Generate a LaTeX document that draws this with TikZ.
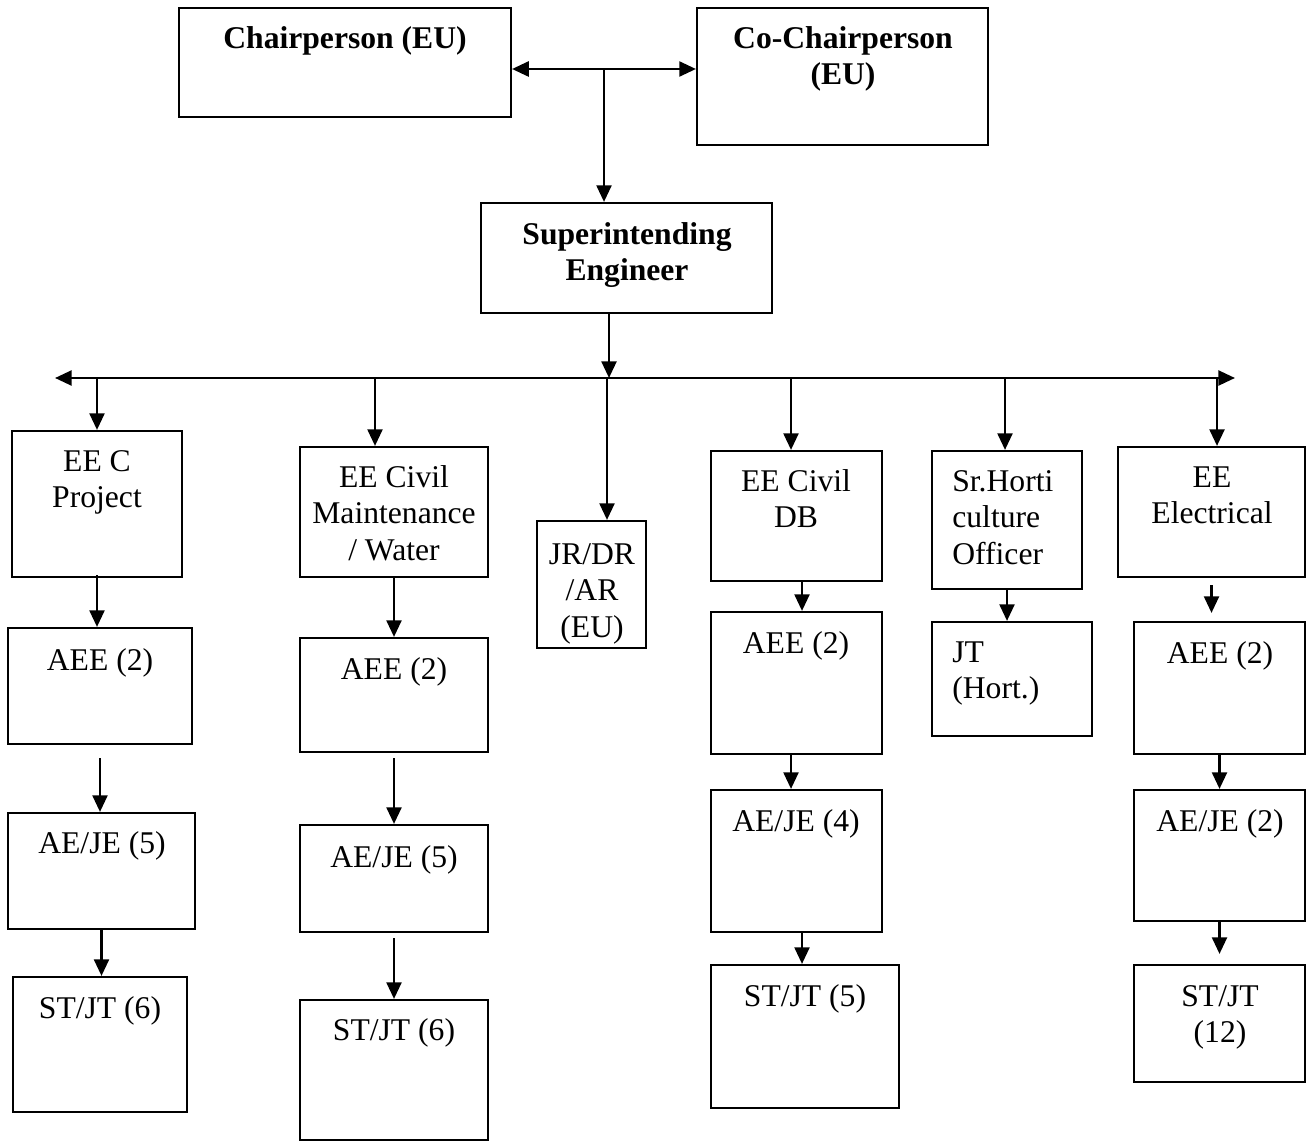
\documentclass[tikz,border=0pt]{standalone}
\usepackage{fontspec}
\setmainfont{Liberation Serif}
\usetikzlibrary{arrows.meta,fit}
\newdimen\ux \ux=0.02cm
\tikzset{
 box/.style={draw, line width=1.2pt, inner sep=0pt},
 txt/.style={font=\fontsize{18}{20.8}\selectfont, align=center, inner sep=0pt},
 btxt/.style={txt, font=\fontsize{18}{20.8}\selectfont\bfseries},
 ltxt/.style={txt, align=left},
 arr/.style={line width=1.5pt, -{Triangle[length=9.5pt,width=8.5pt]}},
 darr/.style={line width=1.5pt, {Triangle[length=9.5pt,width=8.5pt]}-{Triangle[length=9.5pt,width=8.5pt]}},
}
\newcommand\ob[5]{\node[box, fit={(#2,#3) (#4,#5)}] (#1) {};}
\newcommand\tx[5][txt]{\node[#1, anchor=north] (#2) at (#3,{#4-25.6}) {\strut #5};}
\newcommand\tl[4]{\node[ltxt, anchor=north west] (#1) at (#2,{#3-25.6}) {\strut #4};}
\begin{document}
\begin{tikzpicture}[x=0.02cm,y=-0.02cm]
\useasboundingbox (0,0) rectangle (1307,1142);
% boxes
\ob{chair}{179}{8}{511}{117}
\ob{cochair}{697}{8}{988}{145}
\ob{se}{481}{203}{772}{313}
\ob{eeA}{12}{431}{182}{577}
\ob{eeB}{300}{447}{488}{577}
\ob{jr}{537}{521}{646}{648}
\ob{db}{711}{451}{882}{581}
\ob{hort}{932}{451}{1082}{589}
\ob{el}{1118}{447}{1305}{577}
\ob{aeeA}{8}{628}{192}{744}
\ob{aejeA}{8}{813}{195}{929}
\ob{stA}{13}{977}{187}{1112}
\ob{aeeB}{300}{638}{488}{752}
\ob{aejeB}{300}{825}{488}{932}
\ob{stB}{300}{1000}{488}{1140}
\ob{aeeD}{711}{612}{882}{754}
\ob{aejeD}{711}{790}{882}{932}
\ob{stD}{711}{965}{899}{1108}
\ob{jt}{932}{622}{1092}{736}
\ob{aeeE}{1134}{622}{1305}{754}
\ob{aejeE}{1134}{790}{1305}{921}
\ob{stE}{1134}{965}{1305}{1082}
% texts
\tx[btxt]{t-chair}{345}{48}{Chairperson (EU)}
\tx[btxt]{t-cochair}{843}{48}{Co-Chairperson\\(EU)}
\tx[btxt]{t-se}{627}{244}{Superintending\\Engineer}
\tx{t-eeA}{97}{471}{EE C\\Project}
\tx{t-eeB}{394}{487}{EE Civil\\Maintenance\\/ Water}
\tx{t-jr}{592}{564}{JR/DR\\/AR\\(EU)}
\tx{t-db}{796}{491}{EE Civil\\DB}
\tl{t-hort}{952}{491}{Sr.Horti\\culture\\Officer}
\tx{t-el}{1212}{487}{EE\\Electrical}
\tx{t-aeeA}{100}{670}{AEE (2)}
\tx{t-aejeA}{102}{853}{AE/JE (5)}
\tx{t-stA}{100}{1018}{ST/JT (6)}
\tx{t-aeeB}{394}{679}{AEE (2)}
\tx{t-aejeB}{394}{867}{AE/JE (5)}
\tx{t-stB}{394}{1040}{ST/JT (6)}
\tx{t-aeeD}{796}{653}{AEE (2)}
\tx{t-aejeD}{796}{831}{AE/JE (4)}
\tx{t-stD}{805}{1006}{ST/JT (5)}
\tl{t-jt}{952}{662}{JT\\(Hort.)}
\tx{t-aeeE}{1220}{663}{AEE (2)}
\tx{t-aejeE}{1220}{831}{AE/JE (2)}
\tx{t-stE}{1220}{1006}{ST/JT\\(12)}
% connectors
\coordinate (mid) at (604,69);
\draw[darr] (chair.east |- mid) -- (cochair.west |- mid);
\draw[arr] (mid) -- (mid |- se.north);
\coordinate (bus) at (609,378);
\draw[arr] (bus |- se.south) -- (bus);
\coordinate (busL) at (55,378);
\coordinate (busR) at (1235,378);
\draw[darr] (busL) -- (busR);
\foreach \n/\x in {eeA/97, eeB/375, jr/607, db/791, hort/1005, el/1217}{
  \coordinate (b-\n) at (\x,378);
  \draw[arr] (b-\n) -- (b-\n |- \n.north);
}
\coordinate (dbx1) at (802,0);
\coordinate (dbx2) at (791,0);
\draw[arr] ([yshift=3\ux]eeA.south) -- (eeA.south |- aeeA.north);
\draw[arr] ([yshift=-13\ux]aeeA.south) -- (aeeA.south |- aejeA.north);
\draw[arr] (aejeA.south) -- (aejeA.south |- stA.north);
\draw[arr] (eeB.south) -- (eeB.south |- aeeB.north);
\draw[arr] ([yshift=-5\ux]aeeB.south) -- (aeeB.south |- aejeB.north);
\draw[arr] ([yshift=-5\ux]aejeB.south) -- (aejeB.south |- stB.north);
\draw[arr] (dbx1 |- db.south) -- (dbx1 |- aeeD.north);
\draw[arr] (dbx2 |- aeeD.south) -- (dbx2 |- aejeD.north);
\draw[arr] (dbx1 |- aejeD.south) -- (dbx1 |- stD.north);
\draw[arr] (hort.south) -- (hort.south |- jt.north);
\draw[arr, shorten >=8\ux] ([yshift=-7\ux]el.south) -- (el.south |- aeeE.north);
\draw[arr] (aeeE.south) -- (aeeE.south |- aejeE.north);
\draw[arr, shorten >=10\ux] (aejeE.south) -- (aejeE.south |- stE.north);
\end{tikzpicture}
\end{document}
